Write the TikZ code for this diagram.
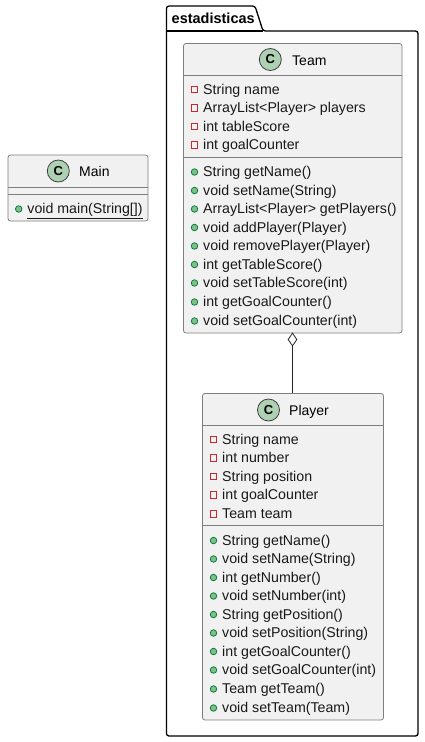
\documentclass[tikz,border=0pt]{standalone}
\usepackage{fontspec}
\setmainfont{Liberation Sans}
\usetikzlibrary{shapes.geometric}
\definecolor{boxfill}{HTML}{F1F1F1}
\definecolor{boxline}{HTML}{7E7E7E}
\definecolor{spotfill}{HTML}{ADD1B2}
\definecolor{privred}{HTML}{C82930}
\definecolor{pubgreen}{HTML}{84BE84}
\definecolor{publine}{HTML}{038048}
\tikzset{
  classbox/.style={draw=boxline,fill=boxfill,line width=0.8pt,rounded corners=2.5pt,inner sep=0,minimum width=#1},
  divider/.style={draw=boxline,line width=0.8pt},
  spot/.style={circle,draw=black!75,fill=spotfill,line width=0.8pt,minimum size=22pt,inner sep=0,font=\fontsize{13}{13}\selectfont\bfseries},
  classname/.style={anchor=base west,inner sep=0,font=\fontsize{14}{14}\selectfont},
  member/.style={anchor=base west,inner sep=0,font=\fontsize{14.2}{14}\selectfont,text=black!90},
  privicon/.style={draw=privred,fill=none,line width=0.8pt,minimum size=6.5pt,inner sep=0},
  pubicon/.style={circle,draw=publine,fill=pubgreen,line width=0.8pt,minimum size=6.5pt,inner sep=0},
  pkgtitle/.style={anchor=base west,inner sep=0,font=\fontsize{14.5}{15}\selectfont\bfseries},
  link/.style={draw=black!85,line width=0.8pt},
  aggr/.style={diamond,aspect=0.75,draw=black!85,fill=white,line width=0.8pt,minimum width=9pt,minimum height=13pt,inner sep=0}
}
\newcommand{\privmem}[4]{\node[privicon] (#1i) at (#2,#3) {}; \node[member] (#1) at (#2+8.5,#3+4.5) {#4};}
\newcommand{\pubmem}[4]{\node[pubicon] (#1i) at (#2,#3) {}; \node[member] (#1) at (#2+8.5,#3+4.5) {#4};}
\begin{document}
\begin{tikzpicture}[x=1pt,y=-1pt]
\useasboundingbox (0,0) rectangle (424,742);
\fill[white] (0,0) rectangle (424,742);
% package
\draw[black,line width=1.3pt,fill=white,rounded corners=2.5pt]
  (166.5,31) -- (166.5,6) -- (255,6) -- (263,31) -- (418,31) -- (418,736) -- (166.5,736) -- cycle;
\draw[black,line width=1.3pt] (166.5,31) -- (263,31);
\node[pkgtitle] (pkg) at (171.5,23) {estadisticas};
% Main
\node[classbox=140pt,minimum height=66pt] (mainbox) at (78,188) {};
\draw[divider] (8,187) -- (148,187) (8,194.5) -- (148,194.5);
\node[spot] (mainspot) at (58.3,171) {C};
\node[classname] (maintitle) at (79,176) {Main};
\pubmem{m1}{18.7}{209}{\underline{void main(String[])}}
% Team
\node[classbox=218.5pt,minimum height=289.5pt] (team) at (292.75,188.25) {};
\draw[divider] (183.5,75.5) -- (402,75.5) (183.5,157) -- (402,157);
\node[spot] (teamspot) at (270.3,59.5) {C};
\node[classname] (teamtitle) at (292,65) {Team};
\privmem{ta}{194.5}{89.5}{String name}
\privmem{tb}{194.5}{108}{ArrayList<Player> players}
\privmem{tc}{194.5}{126.5}{int tableScore}
\privmem{td}{194.5}{145}{int goalCounter}
\pubmem{te}{194.5}{172}{String getName()}
\pubmem{tf}{194.5}{190.5}{void setName(String)}
\pubmem{tg}{194.5}{209}{ArrayList<Player> getPlayers()}
\pubmem{th}{194.5}{227.5}{void addPlayer(Player)}
\pubmem{ti}{194.5}{246}{void removePlayer(Player)}
\pubmem{tj}{194.5}{264.5}{int getTableScore()}
\pubmem{tk}{194.5}{283}{void setTableScore(int)}
\pubmem{tl}{194.5}{302}{int getGoalCounter()}
\pubmem{tm}{194.5}{321}{void setGoalCounter(int)}
% Player
\node[classbox=181pt,minimum height=326.5pt] (player) at (293,556.75) {};
\draw[divider] (202.5,425.5) -- (383.5,425.5) (202.5,525) -- (383.5,525);
\node[spot] (playerspot) at (268.5,410) {C};
\node[classname] (playertitle) at (289,415) {Player};
\privmem{pa}{213.5}{439.5}{String name}
\privmem{pb}{213.5}{458}{int number}
\privmem{pc}{213.5}{476.5}{String position}
\privmem{pd}{213.5}{495}{int goalCounter}
\privmem{pe}{213.5}{514}{Team team}
\pubmem{pf}{213.5}{540.5}{String getName()}
\pubmem{pg}{213.5}{559}{void setName(String)}
\pubmem{ph}{213.5}{577.5}{int getNumber()}
\pubmem{pi}{213.5}{596}{void setNumber(int)}
\pubmem{pj}{213.5}{614.5}{String getPosition()}
\pubmem{pk}{213.5}{633}{void setPosition(String)}
\pubmem{pl}{213.5}{651.5}{int getGoalCounter()}
\pubmem{pm}{213.5}{670}{void setGoalCounter(int)}
\pubmem{pn}{213.5}{689}{Team getTeam()}
\pubmem{po}{213.5}{708}{void setTeam(Team)}
% aggregation
\node[aggr] (dia) at (292.5,339.5) {};
\draw[link] (dia.south) -- (player.north -| dia.south);
\end{tikzpicture}
\end{document}
